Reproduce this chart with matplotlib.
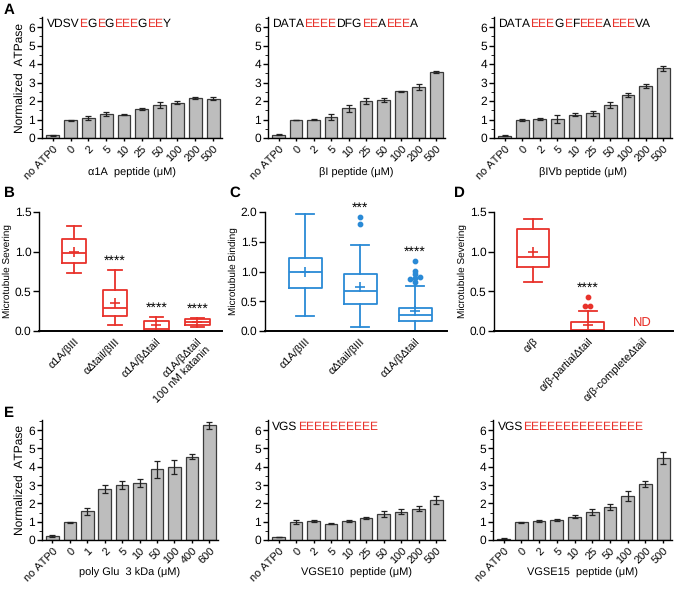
import numpy as np
import matplotlib.pyplot as plt
import matplotlib.transforms as mtransforms
from matplotlib.font_manager import FontProperties, findfont, get_font
from matplotlib.ticker import MultipleLocator

try:
    from matplotlib.ft2font import LoadFlags, Kerning
    NO_HINT = LoadFlags.NO_HINTING
    KERN = Kerning.DEFAULT
except ImportError:
    from matplotlib.ft2font import LOAD_NO_HINTING as NO_HINT, KERNING_DEFAULT as KERN

plt.rcParams["font.family"] = ["Liberation Sans", "DejaVu Sans"]
plt.rcParams["axes.linewidth"] = 1.0
plt.rcParams["xtick.major.width"] = 1.0
plt.rcParams["ytick.major.width"] = 1.0
# unhinted glyphs so that the split sequence runs line up with the summed advances
plt.rcParams["text.hinting"] = "no_hinting"
plt.rcParams["text.hinting_factor"] = 1

RED = "#e8322b"
BLUE = "#2a8ad6"
BAR_GRAY = "#bdbdbd"
BAR_EDGE = "#3a3a3a"

# ---------------- ATPase bar panels (A, E) ----------------
conc_peptide = ["no ATP0", "0", "2", "5", "10", "25", "50", "100", "200", "500"]
conc_polyglu = ["no ATP0", "0", "1", "2", "5", "10", "50", "100", "400", "600"]

a1a_mean = [0.15, 0.95, 1.10, 1.30, 1.27, 1.57, 1.78, 1.92, 2.17, 2.13]
a1a_err = [0.02, 0.03, 0.10, 0.10, 0.04, 0.04, 0.15, 0.06, 0.06, 0.08]

bI_mean = [0.18, 0.98, 1.00, 1.15, 1.60, 2.00, 2.05, 2.52, 2.75, 3.55]
bI_err = [0.02, 0.02, 0.03, 0.15, 0.18, 0.15, 0.12, 0.05, 0.15, 0.05]

bIVb_mean = [0.12, 0.97, 1.05, 1.03, 1.25, 1.33, 1.80, 2.32, 2.83, 3.77]
bIVb_err = [0.03, 0.04, 0.05, 0.22, 0.08, 0.12, 0.15, 0.10, 0.10, 0.12]

polyglu_mean = [0.22, 0.97, 1.57, 2.80, 3.02, 3.10, 3.85, 4.00, 4.55, 6.25]
polyglu_err = [0.03, 0.02, 0.18, 0.22, 0.22, 0.22, 0.45, 0.38, 0.15, 0.18]

vgse10_mean = [0.17, 0.97, 1.05, 0.90, 1.05, 1.22, 1.43, 1.55, 1.70, 2.18]
vgse10_err = [0.02, 0.10, 0.05, 0.03, 0.05, 0.05, 0.15, 0.12, 0.13, 0.20]

vgse15_mean = [0.07, 0.97, 1.05, 1.10, 1.28, 1.52, 1.80, 2.40, 3.05, 4.48]
vgse15_err = [0.02, 0.03, 0.05, 0.04, 0.08, 0.15, 0.18, 0.28, 0.15, 0.35]

seq_a1a = "VDSVEGEGEEEGEEY"
seq_bI = "DATAEEEEDFGEEAEEEA"
seq_bIVb = "DATAEEEGEFEEEAEEEVA"
seq_vgse10 = "VGS" + "E" * 10
seq_vgse15 = "VGS" + "E" * 15

# ---------------- box plot panels (B, C, D) ----------------
b_labels = ["α1A/βIII", "αΔtail/βIII", "α1A/βΔtail", "α1A/βΔtail\n100 nM katanin"]
b_whislo = [0.73, 0.08, 0.00, 0.05]
b_q1 = [0.86, 0.19, 0.00, 0.07]
b_med = [0.98, 0.29, 0.02, 0.11]
b_q3 = [1.16, 0.52, 0.12, 0.15]
b_whishi = [1.32, 0.77, 0.18, 0.16]
b_mean = [1.00, 0.35, 0.08, 0.11]
b_fliers = [[], [], [], []]
b_stars = ["", "****", "****", "****"]

c_labels = ["α1A/βIII", "αΔtail/βIII", "α1A/βΔtail"]
c_whislo = [0.26, 0.07, 0.00]
c_q1 = [0.73, 0.46, 0.17]
c_med = [1.00, 0.68, 0.27]
c_q3 = [1.22, 0.95, 0.38]
c_whishi = [1.97, 1.45, 0.75]
c_mean = [1.00, 0.74, 0.33]
c_fliers = [[], [1.80, 1.92], [0.82, 0.88, 0.89, 0.90, 0.96, 1.01, 1.17]]
c_stars = ["", "***", "****"]

d_labels = ["α/β", "α/β-partialΔtail", "α/β-completeΔtail"]
d_whislo = [0.62, 0.00]
d_q1 = [0.81, 0.00]
d_med = [0.93, 0.01]
d_q3 = [1.29, 0.11]
d_whishi = [1.41, 0.25]
d_mean = [1.00, 0.07]
d_fliers = [[], [0.32, 0.32, 0.43]]
d_stars = ["", "****", ""]


def colored_sequence(ax, seq, y, size=8.5):
    # glutamates in red, the rest in black; each run starts where the pen
    # would be in the full string (advances + kerning)
    fig = ax.figure
    fp = FontProperties(family="Liberation Sans", size=size)
    font = get_font(findfont(fp), hinting_factor=1)
    font.set_size(size, fig.dpi)
    idx = [font.get_char_index(ord(c)) for c in seq]
    pen = [0.0]
    for i, c in enumerate(seq):
        adv = font.load_char(ord(c), flags=NO_HINT).linearHoriAdvance / 65536.0
        kern = font.get_kerning(idx[i], idx[i + 1], KERN) / 64.0 if i + 1 < len(seq) else 0.0
        pen.append(pen[-1] + adv + kern)

    base = mtransforms.blended_transform_factory(ax.transAxes, ax.transData)
    start = 0
    while start < len(seq):
        red = seq[start] == "E"
        end = start
        while end < len(seq) and (seq[end] == "E") == red:
            end += 1
        tr = mtransforms.offset_copy(base, fig=fig, x=pen[start] * 72.0 / fig.dpi, units="points")
        ax.text(0.025, y, seq[start:end], transform=tr, fontproperties=fp,
                color=RED if red else "black", va="baseline", ha="left")
        start = end


def bar_panel(ax, labels, means, errs, xlabel, ylabel=None, seq=None, label_y=-0.25):
    x = np.arange(len(labels))
    ax.bar(x, means, width=0.72, color=BAR_GRAY, edgecolor=BAR_EDGE, linewidth=0.9,
           yerr=errs, capsize=2.2,
           error_kw=dict(elinewidth=0.9, capthick=0.9, ecolor="#222222"))
    ax.set_xlim(-0.6, 9.5)
    ax.set_ylim(0, 6.55)
    ax.set_yticks(range(7))
    ax.yaxis.set_minor_locator(MultipleLocator(0.5))
    ax.tick_params(axis="y", which="major", length=3.5, labelsize=8.5, pad=1.5)
    ax.tick_params(axis="y", which="minor", length=2)
    ax.set_xticks(x)
    ax.set_xticklabels(labels, rotation=45, ha="right", rotation_mode="anchor")
    ax.tick_params(axis="x", length=2, labelsize=8, pad=2)
    ax.set_xlabel(xlabel, fontsize=8)
    ax.xaxis.set_label_coords(0.5, label_y)
    if ylabel:
        ax.set_ylabel(ylabel, fontsize=8.5, labelpad=2)
    if seq:
        colored_sequence(ax, seq, 6.02)
    ax.spines[["top", "right"]].set_visible(False)


def dodge(values, step=0.09, tol=0.035):
    # spread near-equal outliers sideways so they do not overlap
    offs = []
    vals = sorted(values)
    group = []
    for v in vals:
        if group and v - group[-1] > tol:
            n = len(group)
            offs += list((np.arange(n) - (n - 1) / 2) * step)
            group = []
        group.append(v)
    if group:
        n = len(group)
        offs += list((np.arange(n) - (n - 1) / 2) * step)
    return vals, offs


def box_panel(ax, labels, whislo, q1, med, q3, whishi, mean, fliers, stars,
              color, ymax, ylabel, xlim):
    stats = []
    for i in range(len(med)):
        stats.append(dict(whislo=whislo[i], q1=q1[i], med=med[i], q3=q3[i],
                          whishi=whishi[i], mean=mean[i], fliers=[]))
    pos = np.arange(1, len(med) + 1)
    lp = dict(color=color, linewidth=1.3)
    ax.bxp(stats, positions=pos, widths=0.6, capwidths=0.32, showmeans=True,
           showfliers=False, boxprops=lp, whiskerprops=lp, capprops=lp,
           medianprops=lp,
           meanprops=dict(marker="+", markersize=7, markeredgecolor=color,
                          markeredgewidth=1.2))
    for i, fl in enumerate(fliers):
        if fl:
            vals, offs = dodge(fl)
            ax.scatter(pos[i] + np.array(offs), vals, s=10, color=color, zorder=3)
    for i, s in enumerate(stars):
        if s:
            top = max([whishi[i]] + list(fliers[i]))
            ax.text(i + 1, top + 0.02 * ymax, s, ha="center", va="bottom", fontsize=10)
    ax.set_xlim(*xlim)
    ax.set_ylim(0, ymax)
    ax.set_yticks(np.arange(0, ymax + 0.01, 0.5))
    ax.yaxis.set_major_formatter(lambda v, p: f"{v:.1f}")
    ax.set_xticks(np.arange(1, len(labels) + 1))
    ax.set_xticklabels(labels, rotation=45, ha="right", rotation_mode="anchor")
    ax.tick_params(axis="x", length=0, labelsize=8, pad=4)
    ax.tick_params(axis="y", length=4, labelsize=8.5, pad=1.5)
    ax.set_ylabel(ylabel, fontsize=7.5, labelpad=2)
    ax.spines[["top", "right"]].set_visible(False)
    ax.spines["bottom"].set_linewidth(1.4)


fig = plt.figure(figsize=(6.79, 5.91), dpi=100)

W, H = 679.0, 591.0


def axes_px(left, right, top, bottom):
    return fig.add_axes([left / W, 1 - bottom / H, (right - left) / W, (bottom - top) / H])


axA1 = axes_px(42, 222, 17, 138)
axA2 = axes_px(268, 445, 17, 138)
axA3 = axes_px(494, 672, 17, 138)
axB = axes_px(39, 222, 212, 331)
axC = axes_px(265, 447, 212, 331)
axD = axes_px(494, 673, 212, 331)
axE1 = axes_px(42, 218, 420, 540)
axE2 = axes_px(268, 445, 420, 540)
axE3 = axes_px(493, 672, 420, 540)

bar_panel(axA1, conc_peptide, a1a_mean, a1a_err, "α1A  peptide (μM)", "Normalized  ATPase", seq_a1a)
bar_panel(axA2, conc_peptide, bI_mean, bI_err, "βI peptide (μM)", seq=seq_bI)
bar_panel(axA3, conc_peptide, bIVb_mean, bIVb_err, "βIVb peptide (μM)", seq=seq_bIVb)
bar_panel(axE1, conc_polyglu, polyglu_mean, polyglu_err, "poly Glu  3 kDa (μM)",
          "Normalized  ATPase", label_y=-0.23)
bar_panel(axE2, conc_peptide, vgse10_mean, vgse10_err, "VGSE10  peptide (μM)",
          seq=seq_vgse10, label_y=-0.23)
bar_panel(axE3, conc_peptide, vgse15_mean, vgse15_err, "VGSE15  peptide (μM)",
          seq=seq_vgse15, label_y=-0.23)

box_panel(axB, b_labels, b_whislo, b_q1, b_med, b_q3, b_whishi, b_mean, b_fliers,
          b_stars, RED, 1.5, "Microtubule Severing", (0.15, 4.6))
box_panel(axC, c_labels, c_whislo, c_q1, c_med, c_q3, c_whishi, c_mean, c_fliers,
          c_stars, BLUE, 2.0, "Microtubule Binding", (0.27, 3.58))
box_panel(axD, d_labels, d_whislo, d_q1, d_med, d_q3, d_whishi, d_mean, d_fliers,
          d_stars, RED, 1.5, "Microtubule Severing", (0.29, 3.55))
axD.text(3, 0.03, "ND", color=RED, ha="center", va="bottom", fontsize=9.5)

for lbl, (px, py) in zip("ABCDE", [(4, 10), (4, 193), (229, 193), (454, 193), (4, 413)]):
    fig.text(px / W, 1 - py / H, lbl, fontsize=11, fontweight="bold", va="center", ha="left")

fig.savefig("out.png", dpi=100)
